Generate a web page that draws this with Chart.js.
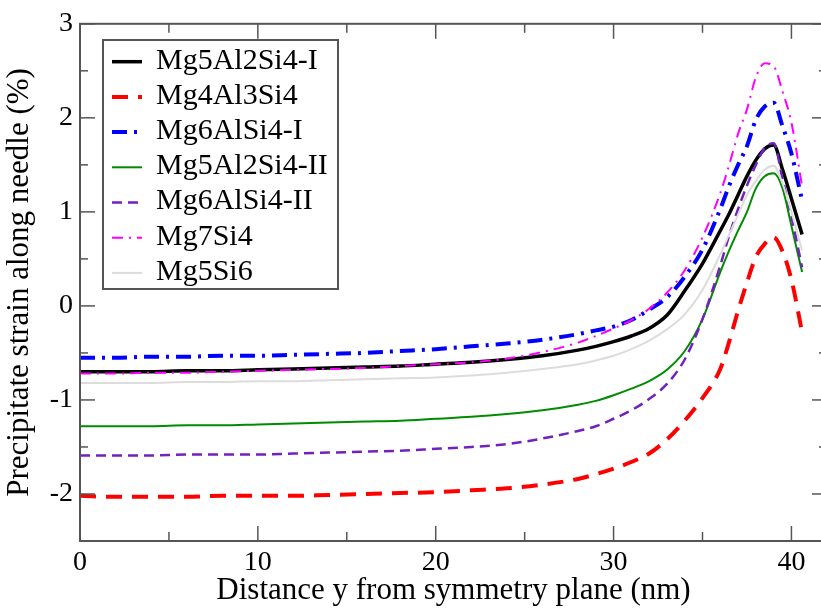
<!DOCTYPE html>
<html>
<head>
<meta charset="utf-8">
<script src="https://cdn.jsdelivr.net/npm/chart.js@4/dist/chart.umd.min.js"></script>
<style>
html,body{margin:0;padding:0;background:#fff;overflow:hidden;width:821px;height:609px;}
canvas{display:block;}
</style>
</head>
<body>
<canvas id="c" width="832" height="609" style="width:832px;height:609px"></canvas>
<script>
// ---- data ----
const xs = [0,2,4,6,8,10,12,14,16,18,20,22,24,26,28,29,30,31,32,33,34,35,36,36.5,37,37.5,38,38.5,39,39.5,40,40.6];
const seriesNames = ["Mg5Al2Si4-I","Mg4Al3Si4","Mg6AlSi4-I","Mg5Al2Si4-II","Mg6AlSi4-II","Mg7Si4","Mg5Si6"];
const mg5al2si4I  = [-0.70,-0.70,-0.70,-0.69,-0.69,-0.68,-0.67,-0.66,-0.65,-0.64,-0.62,-0.60,-0.57,-0.53,-0.47,-0.43,-0.38,-0.32,-0.24,-0.10,0.16,0.45,0.80,0.98,1.18,1.38,1.55,1.67,1.71,1.45,1.14,0.76];
const mg4al3si4   = [-2.02,-2.03,-2.03,-2.03,-2.02,-2.02,-2.02,-2.01,-2.00,-1.99,-1.98,-1.96,-1.94,-1.90,-1.84,-1.79,-1.73,-1.66,-1.57,-1.42,-1.22,-0.98,-0.67,-0.38,-0.05,0.25,0.52,0.66,0.73,0.58,0.28,-0.28];
const mg6alsi4I   = [-0.55,-0.55,-0.54,-0.54,-0.53,-0.53,-0.52,-0.51,-0.50,-0.48,-0.46,-0.43,-0.40,-0.36,-0.30,-0.26,-0.22,-0.15,-0.04,0.09,0.31,0.60,1.03,1.28,1.50,1.70,1.98,2.12,2.16,1.91,1.62,1.12];
const mg5al2si4II = [-1.28,-1.28,-1.28,-1.27,-1.27,-1.26,-1.25,-1.24,-1.23,-1.22,-1.20,-1.18,-1.15,-1.11,-1.05,-1.01,-0.95,-0.88,-0.80,-0.68,-0.48,-0.14,0.36,0.59,0.80,1.00,1.25,1.38,1.41,1.25,0.85,0.36];
const mg6alsi4II  = [-1.59,-1.59,-1.59,-1.58,-1.58,-1.58,-1.57,-1.56,-1.55,-1.54,-1.52,-1.50,-1.47,-1.41,-1.33,-1.28,-1.20,-1.11,-0.99,-0.83,-0.57,-0.14,0.43,0.75,1.03,1.28,1.50,1.68,1.73,1.35,0.95,0.41];
const mg7si4      = [-0.72,-0.72,-0.71,-0.71,-0.70,-0.69,-0.68,-0.67,-0.66,-0.64,-0.62,-0.60,-0.56,-0.49,-0.39,-0.32,-0.24,-0.15,-0.03,0.14,0.38,0.73,1.20,1.50,1.83,2.09,2.43,2.58,2.55,2.28,1.95,1.27];
const mg5si6      = [-0.82,-0.82,-0.82,-0.81,-0.81,-0.80,-0.80,-0.79,-0.78,-0.77,-0.76,-0.74,-0.71,-0.67,-0.62,-0.58,-0.53,-0.46,-0.37,-0.25,-0.09,0.17,0.55,0.76,0.97,1.18,1.33,1.45,1.49,1.30,1.00,0.59];
const xMajorTicks = [0,10,20,30,40];
const xMinorTicks = [5,15,25,35];
const yMajorTicks = [-2,-1,0,1,2,3];
const yMinorTicks = [-1.5,-0.5,0.5,1.5,2.5];
const xTitle = "Distance y from symmetry plane (nm)";
const yTitle = "Precipitate strain along needle (%)";

// ---- styles ----
const styles = [
  {color:'#000000', width:3.5, dash:[]},
  {color:'#ff0000', width:4,   dash:[16,10]},
  {color:'#0000ff', width:4,   dash:[15,7,3,7]},
  {color:'#008b00', width:2,   dash:[]},
  {color:'#7222bc', width:2.5, dash:[10,6]},
  {color:'#ff00ff', width:2,   dash:[11,6,2,6]},
  {color:'#dcdcdc', width:2,   dash:[]}
];
const allSeries = [mg5al2si4I, mg4al3si4, mg6alsi4I, mg5al2si4II, mg6alsi4II, mg7si4, mg5si6];

const FONT = "'Liberation Serif','Times New Roman',serif";
Chart.defaults.font.family = FONT;
Chart.defaults.color = '#000';

const datasets = allSeries.map((arr,i)=>({
  label: seriesNames[i],
  data: xs.map((x,j)=>({x:x, y:arr[j]})),
  borderColor: styles[i].color,
  borderWidth: styles[i].width,
  borderDash: styles[i].dash,
  pointRadius: 0,
  fill: false,
  cubicInterpolationMode: 'monotone',
  order: -i
}));

const AXIS = '#555';
const framePlugin = {
  id: 'frame',
  afterDraw(chart){
    const ctx = chart.ctx, a = chart.chartArea;
    const sx = chart.scales.x, sy = chart.scales.y;
    ctx.save();
    ctx.strokeStyle = AXIS; ctx.lineWidth = 2; ctx.setLineDash([]);
    ctx.strokeRect(a.left, a.top, a.right - a.left, a.bottom - a.top);
    ctx.lineWidth = 1.5;
    const tick = (x1,y1,x2,y2)=>{ctx.beginPath();ctx.moveTo(x1,y1);ctx.lineTo(x2,y2);ctx.stroke();};
    xMajorTicks.forEach(v=>{const p=sx.getPixelForValue(v); tick(p,a.bottom,p,a.bottom-15); tick(p,a.top,p,a.top+15);});
    xMinorTicks.forEach(v=>{const p=sx.getPixelForValue(v); tick(p,a.bottom,p,a.bottom-9); tick(p,a.top,p,a.top+9);});
    yMajorTicks.forEach(v=>{const p=sy.getPixelForValue(v); tick(a.left,p,a.left+15,p); tick(a.right,p,a.right-15,p);});
    yMinorTicks.forEach(v=>{const p=sy.getPixelForValue(v); tick(a.left,p,a.left+8,p); tick(a.right,p,a.right-8,p);});

    // legend
    const bx=103, by=40, bw=235, bh=249;
    ctx.fillStyle='#fff'; ctx.fillRect(bx,by,bw,bh);
    ctx.strokeStyle=AXIS; ctx.lineWidth=2; ctx.strokeRect(bx,by,bw,bh);
    ctx.font = "30px " + FONT;
    ctx.textAlign='left'; ctx.textBaseline='alphabetic';
    chart.data.datasets.forEach((ds,i)=>{
      const ly = 61.7 + i*35.2;
      ctx.save();
      ctx.strokeStyle = ds.borderColor; ctx.lineWidth = ds.borderWidth;
      ctx.setLineDash(ds.borderDash || []);
      ctx.beginPath(); ctx.moveTo(112,ly); ctx.lineTo(142,ly); ctx.stroke();
      ctx.restore();
      ctx.fillStyle='#000';
      ctx.fillText(ds.label, 156, ly + 6.8);
    });
    ctx.restore();
  }
};

new Chart(document.getElementById('c'), {
  type: 'line',
  data: { datasets },
  options: {
    responsive: false,
    animation: false,
    devicePixelRatio: 1,
    layout: { padding: {top:16, right:5, left:0, bottom:0}, autoPadding: false },
    plugins: { legend: {display:false}, tooltip: {enabled:false}, title:{display:false} },
    scales: {
      x: {
        type: 'linear', min: 0, max: 42,
        grid: {display:false, drawTicks:false, tickLength:0}, border: {display:false},
        ticks: { stepSize: 10, font: {size: 28}, color:'#000', padding: 5, maxRotation: 0 },
        afterBuildTicks(s){ s.ticks = xMajorTicks.map(v=>({value:v})); },
        afterFit(s){ s.height = 68; },
        title: { display:true, text: xTitle, font:{size:31, lineHeight:1.2}, color:'#000', padding:0 }
      },
      y: {
        type: 'linear', min: -2.5, max: 3,
        grid: {display:false, drawTicks:false, tickLength:0}, border: {display:false},
        ticks: { stepSize: 1, font: {size: 28}, color:'#000', padding: 7 },
        afterBuildTicks(s){ s.ticks = yMajorTicks.map(v=>({value:v})); },
        afterFit(s){ s.width = 80; },
        title: { display:true, text: yTitle, font:{size:31, lineHeight:1.3}, color:'#000', padding:0 }
      }
    }
  },
  plugins: [framePlugin]
});
</script>
</body>
</html>
